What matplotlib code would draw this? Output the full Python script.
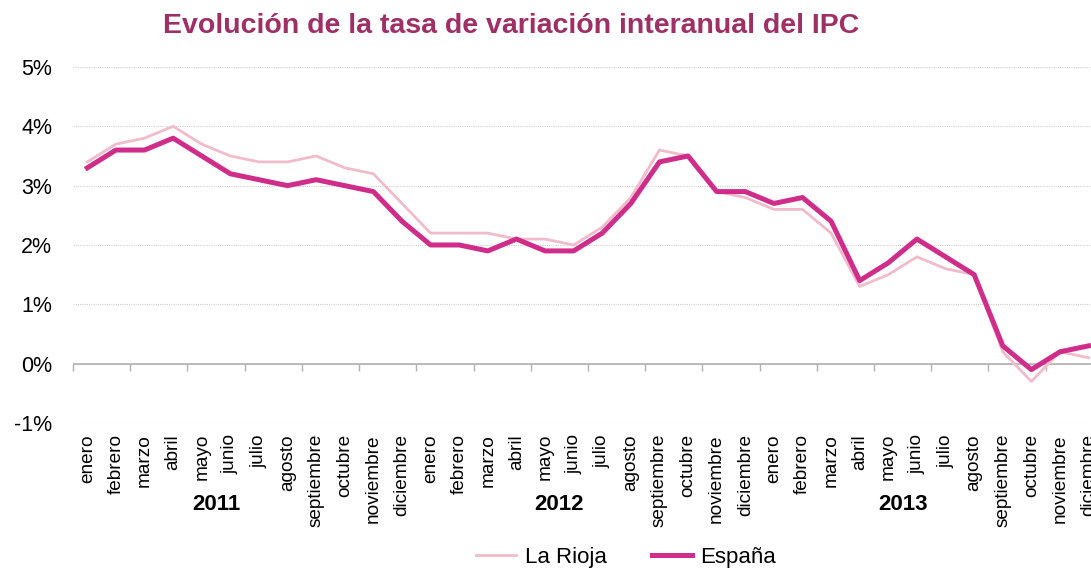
import matplotlib
matplotlib.use("Agg")
import matplotlib.pyplot as plt
import numpy as np

plt.rcParams['font.family'] = ['Liberation Sans', 'DejaVu Sans']

months = ['enero', 'febrero', 'marzo', 'abril', 'mayo', 'junio', 'julio',
          'agosto', 'septiembre', 'octubre', 'noviembre', 'diciembre']
years = ['2011', '2012', '2013']
labels = months * len(years)

rioja = [3.4, 3.7, 3.8, 4.0, 3.7, 3.5, 3.4, 3.4, 3.5, 3.3, 3.2, 2.7,
         2.2, 2.2, 2.2, 2.1, 2.1, 2.0, 2.3, 2.8, 3.6, 3.5, 2.9, 2.8,
         2.6, 2.6, 2.2, 1.3, 1.5, 1.8, 1.6, 1.5, 0.2, -0.3, 0.2, 0.1]
espana = [3.3, 3.6, 3.6, 3.8, 3.5, 3.2, 3.1, 3.0, 3.1, 3.0, 2.9, 2.4,
          2.0, 2.0, 1.9, 2.1, 1.9, 1.9, 2.2, 2.7, 3.4, 3.5, 2.9, 2.9,
          2.7, 2.8, 2.4, 1.4, 1.7, 2.1, 1.8, 1.5, 0.3, -0.1, 0.2, 0.3]

x = np.arange(len(labels))

fig = plt.figure(figsize=(10.91, 5.69), dpi=100)
ax = fig.add_axes([0.0669, 0.2566, 0.944, 0.6257])

ax.plot(x, rioja, color='#f0bccb', lw=2.0, label='La Rioja', zorder=3)
ax.plot(x, espana, color='#d02d8b', lw=3.6, label='España', zorder=4)

ax.set_xlim(-0.5, len(labels) - 0.5)
ax.set_ylim(-1, 5)
ax.set_yticks(np.arange(-1, 6, 1))
ax.set_yticklabels([f'{v}%' for v in range(-1, 6)], fontsize=15.5)
ax.tick_params(axis='y', length=0, pad=15)
ax.grid(axis='y', color='#d0d0d0', lw=0.8, ls=(0, (1, 1)))
ax.axhline(0, color='#b0b0b0', lw=1.2, zorder=2)

for s in ax.spines.values():
    s.set_visible(False)

ax.set_xticks(x)
ax.set_xticklabels(labels, rotation=90, fontsize=13.7)
ax.tick_params(axis='x', length=0, pad=8)

# tick marks on the zero line, every two months
sec = ax.secondary_xaxis(1 / 6)
sec.spines['bottom'].set_visible(False)
sec.set_xticks(np.arange(-0.5, len(labels), 2))
sec.set_xticklabels([])
sec.tick_params(axis='x', length=5, color='#b0b0b0', width=1)

for k, yr in enumerate(years):
    ax.text(4.5 + 12 * k, -0.23, yr, transform=ax.get_xaxis_transform(),
            ha='center', va='center', fontsize=16, fontweight='bold')

fig.text(0.149, 0.955, 'Evolución de la tasa de variación interanual del IPC',
         fontsize=20.5, fontweight='bold', color='#9e3065', ha='left', va='center')

fig.legend(loc='center', bbox_to_anchor=(0.574, 0.021), ncol=2, frameon=False,
           fontsize=16, handlelength=1.8, columnspacing=2.0, handletextpad=0.4)

fig.savefig('out.png', dpi=100)
